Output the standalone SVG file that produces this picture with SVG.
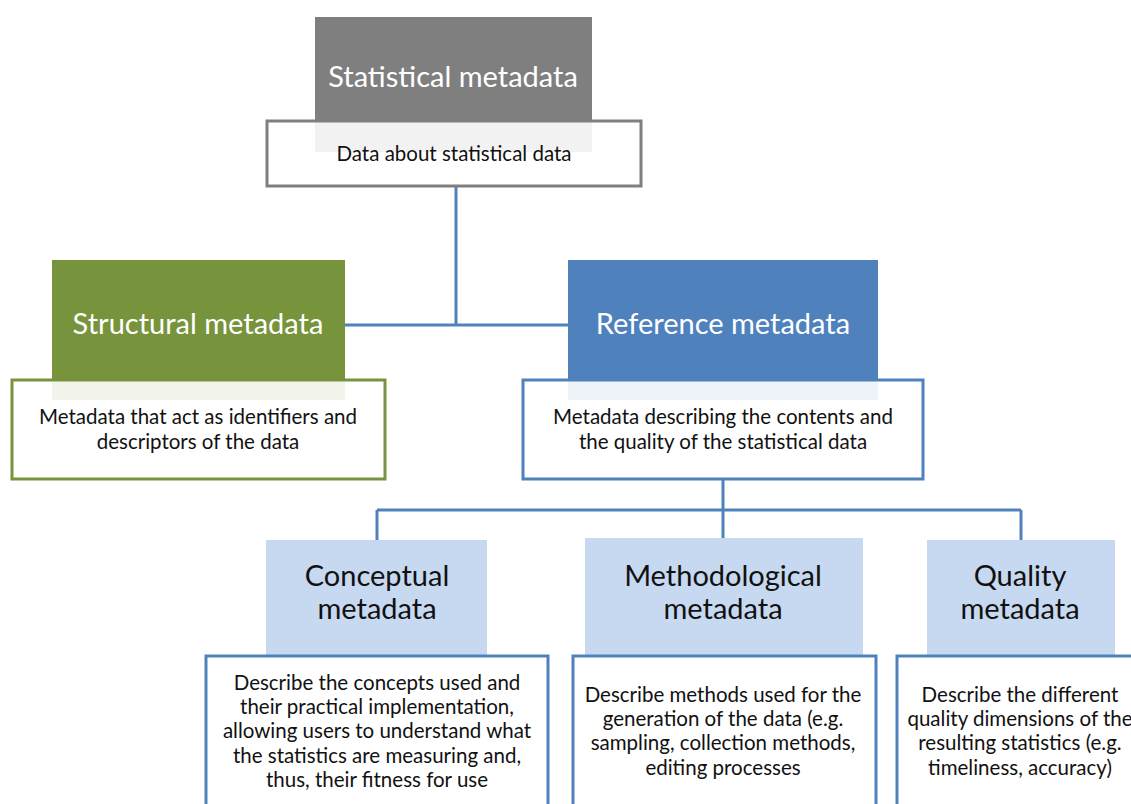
<svg xmlns="http://www.w3.org/2000/svg" width="1131" height="804" viewBox="0 0 1131 804">
<style>
.hd{font-family:Lato,"Liberation Sans",sans-serif;font-size:29px;text-anchor:middle}
.hw{fill:#ffffff}
.hk{fill:#111111}
.ds{font-family:Lato,"Liberation Sans",sans-serif;font-size:20.5px;fill:#111111;text-anchor:middle}
.box{fill:#ffffff;fill-opacity:0.9;stroke-width:3}
.conn{fill:none;stroke:#4f81bd;stroke-width:3}
</style>
<rect width="1131" height="804" fill="#ffffff"/>
<g id="connectors">
<path class="conn" d="M456 186V325M345 325H568"/>
<path class="conn" d="M723 479V510M377 510H1021M377 510V540M723 510V540M1021 510V540"/>
</g>
<g id="statistical">
<rect x="315" y="17" width="277" height="135" fill="#7f7f7f"/>
<text class="hd hw" x="453" y="87">Statistical metadata</text>
<rect class="box" x="267" y="121" width="374" height="65" stroke="#7f7f7f"/>
<text class="ds" x="454" y="161">Data about statistical data</text>
</g>
<g id="structural">
<rect x="52" y="260" width="293" height="140" fill="#77933c"/>
<text class="hd hw" x="198" y="334">Structural metadata</text>
<rect class="box" x="12" y="380" width="373" height="99" stroke="#77933c"/>
<text class="ds" x="198" y="424">Metadata that act as identifiers and</text>
<text class="ds" x="198" y="449">descriptors of the data</text>
</g>
<g id="reference">
<rect x="568" y="260" width="310" height="140" fill="#4f81bd"/>
<text class="hd hw" x="723" y="334">Reference metadata</text>
<rect class="box" x="523" y="380" width="400" height="99" stroke="#4f81bd"/>
<text class="ds" x="723" y="424">Metadata describing the contents and</text>
<text class="ds" x="723" y="449">the quality of the statistical data</text>
</g>
<g id="conceptual">
<rect x="266" y="540" width="221" height="117" fill="#c6d9f1"/>
<text class="hd hk" x="377" y="586">Conceptual</text>
<text class="hd hk" x="377" y="619">metadata</text>
<rect class="box" x="206" y="656" width="342" height="160" stroke="#4f81bd"/>
<text class="ds" x="377" y="690">Describe the concepts used and</text>
<text class="ds" x="377" y="714">their practical implementation,</text>
<text class="ds" x="377" y="738">allowing users to understand what</text>
<text class="ds" x="377" y="763">the statistics are measuring and,</text>
<text class="ds" x="377" y="787">thus, their fitness for use</text>
</g>
<g id="methodological">
<rect x="585" y="538" width="278" height="119" fill="#c6d9f1"/>
<text class="hd hk" x="723" y="586">Methodological</text>
<text class="hd hk" x="723" y="619">metadata</text>
<rect class="box" x="573" y="656" width="303" height="160" stroke="#4f81bd"/>
<text class="ds" x="723" y="702">Describe methods used for the</text>
<text class="ds" x="723" y="726">generation of the data (e.g.</text>
<text class="ds" x="723" y="750">sampling, collection methods,</text>
<text class="ds" x="723" y="775">editing processes</text>
</g>
<g id="quality">
<rect x="927" y="540" width="188" height="117" fill="#c6d9f1"/>
<text class="hd hk" x="1020" y="586">Quality</text>
<text class="hd hk" x="1020" y="619">metadata</text>
<rect class="box" x="897" y="656" width="260" height="160" stroke="#4f81bd"/>
<text class="ds" x="1020" y="702">Describe the different</text>
<text class="ds" x="1020" y="726">quality dimensions of the</text>
<text class="ds" x="1020" y="750">resulting statistics (e.g.</text>
<text class="ds" x="1020" y="775">timeliness, accuracy)</text>
</g>
</svg>
